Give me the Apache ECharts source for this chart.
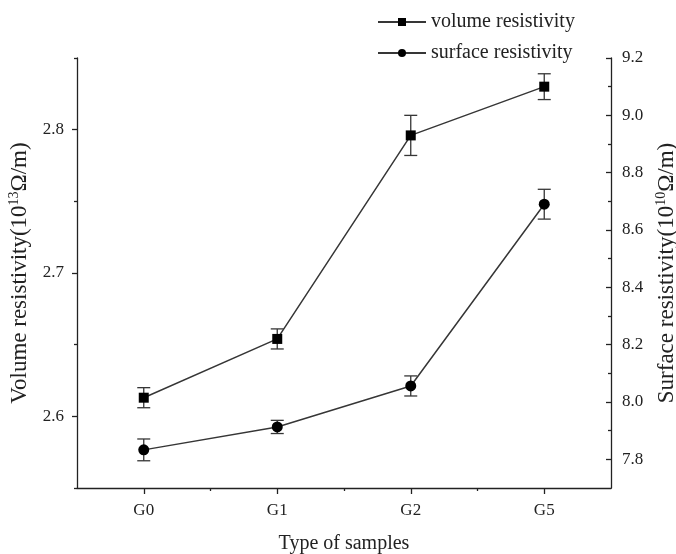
<!DOCTYPE html>
<html>
<head>
<meta charset="utf-8">
<script src="https://cdn.jsdelivr.net/npm/echarts@6/dist/echarts.min.js"></script>
<style>
  html, body { margin: 0; padding: 0; background: #fff; }
  #chart { width: 676px; height: 554px; }
</style>
</head>
<body>
<div id="chart"></div>
<script>
// Sample types on the horizontal axis
const categories = ['G0', 'G1', 'G2', 'G5'];

// Volume resistivity (10^13 Ω/m), left axis
const volumeValues = [2.613, 2.654, 2.796, 2.830];
const volumeErrors = [0.007, 0.007, 0.014, 0.009];

// Surface resistivity (10^10 Ω/m), right axis
const surfaceValues = [7.833, 7.913, 8.056, 8.690];
const surfaceErrors = [0.038, 0.023, 0.035, 0.052];

// Tick positions
const volumeTicks = [2.6, 2.7, 2.8];
const volumeMinorTicks = [2.55, 2.65, 2.75, 2.85];
const surfaceTicks = [7.8, 8.0, 8.2, 8.4, 8.6, 8.8, 9.0, 9.2];
const surfaceMinorTicks = [7.9, 8.1, 8.3, 8.5, 8.7, 8.9, 9.1];
const categoryMinorTicks = [0.5, 1.5, 2.5];

const FONT = '"Liberation Serif", "DejaVu Serif", serif';
const INK = '#222';
const LINE = '#363636';

const catIdx = categories.map((_, i) => i);
const pairs = (vals) => vals.map((v, i) => [i, v]);
const errData = (vals, errs) => vals.map((v, i) => [i, v - errs[i], v + errs[i]]);

function errorBar(params, api) {
  const x = api.value(0);
  const lo = api.coord([x, api.value(1)]);
  const hi = api.coord([x, api.value(2)]);
  const cap = 6.5;
  const style = { stroke: LINE, lineWidth: 1.3, fill: null };
  return {
    type: 'group',
    children: [
      { type: 'line', shape: { x1: lo[0], y1: lo[1], x2: hi[0], y2: hi[1] }, style },
      { type: 'line', shape: { x1: lo[0] - cap, y1: lo[1], x2: lo[0] + cap, y2: lo[1] }, style },
      { type: 'line', shape: { x1: hi[0] - cap, y1: hi[1], x2: hi[0] + cap, y2: hi[1] }, style }
    ]
  };
}

const nameRich = {
  n: { fontFamily: FONT, fontSize: 23, color: INK },
  s: { fontFamily: FONT, fontSize: 14, color: INK, verticalAlign: 'top', lineHeight: 26 }
};

const axisLine = { show: true, onZero: false, lineStyle: { color: INK, width: 1.3 } };
const hiddenLine = { show: false, onZero: false };
const tickStyle = { color: INK, width: 1.3 };

const chart = echarts.init(document.getElementById('chart'), null, { renderer: 'canvas' });

chart.setOption({
  animation: false,
  backgroundColor: '#fff',
  grid: { left: 77, right: 65, top: 58, bottom: 66, containLabel: false, outerBoundsMode: 'none' },
  legend: {
    orient: 'vertical',
    left: 372,
    top: 7,
    itemGap: 11,
    itemWidth: 48,
    itemHeight: 10,
    textStyle: { fontFamily: FONT, fontSize: 20, color: INK },
    data: ['volume resistivity', 'surface resistivity']
  },
  xAxis: [
    {
      type: 'value', min: -0.5, max: 3.5,
      position: 'bottom',
      axisLine,
      splitLine: { show: false },
      axisTick: { show: true, customValues: catIdx, length: 6, lineStyle: tickStyle },
      axisLabel: {
        customValues: catIdx, margin: 14,
        formatter: (v) => categories[Math.round(v)],
        fontFamily: FONT, fontSize: 17, color: INK
      },
      name: 'Type of samples', nameLocation: 'middle', nameGap: 46,
      nameTextStyle: { fontFamily: FONT, fontSize: 20, color: INK }
    },
    {
      type: 'value', min: -0.5, max: 3.5,
      position: 'bottom',
      axisLine: hiddenLine,
      splitLine: { show: false },
      axisTick: { show: true, customValues: categoryMinorTicks, length: 3, lineStyle: tickStyle },
      axisLabel: { show: false }
    }
  ],
  yAxis: [
    {
      type: 'value', min: 2.55, max: 2.85, position: 'left',
      axisLine,
      splitLine: { show: false },
      axisTick: { show: true, customValues: volumeTicks, length: 5, lineStyle: tickStyle },
      axisLabel: {
        customValues: volumeTicks, margin: 13,
        formatter: (v) => v.toFixed(1),
        fontFamily: FONT, fontSize: 17, color: INK
      },
      name: '{n|Volume resistivity(10}{s|13}{n|Ω/m)}',
      nameLocation: 'middle', nameGap: 35,
      nameTextStyle: { rich: nameRich }
    },
    {
      type: 'value', min: 7.7, max: 9.2, position: 'right',
      axisLine,
      splitLine: { show: false },
      axisTick: { show: true, inside: true, customValues: surfaceTicks, length: 5, lineStyle: tickStyle },
      axisLabel: {
        customValues: surfaceTicks, margin: 11,
        formatter: (v) => v.toFixed(1),
        fontFamily: FONT, fontSize: 17, color: INK
      },
      name: '{n|Surface resistivity(10}{s|10}{n|Ω/m)}',
      nameLocation: 'middle', nameGap: 37,
      nameTextStyle: { rich: nameRich }
    },
    {
      type: 'value', min: 2.55, max: 2.85, position: 'left',
      axisLine: hiddenLine,
      splitLine: { show: false },
      axisTick: { show: true, customValues: volumeMinorTicks, length: 3, lineStyle: tickStyle },
      axisLabel: { show: false }
    },
    {
      type: 'value', min: 7.7, max: 9.2, position: 'right',
      axisLine: hiddenLine,
      splitLine: { show: false },
      axisTick: { show: true, inside: true, customValues: surfaceMinorTicks, length: 3, lineStyle: tickStyle },
      axisLabel: { show: false }
    }
  ],
  series: [
    {
      name: 'volume resistivity error',
      type: 'custom', xAxisIndex: 0, yAxisIndex: 0,
      renderItem: errorBar,
      encode: { x: 0, y: [1, 2] },
      data: errData(volumeValues, volumeErrors),
      z: 2, silent: true
    },
    {
      name: 'surface resistivity error',
      type: 'custom', xAxisIndex: 0, yAxisIndex: 1,
      renderItem: errorBar,
      encode: { x: 0, y: [1, 2] },
      data: errData(surfaceValues, surfaceErrors),
      z: 2, silent: true
    },
    {
      name: 'volume resistivity',
      type: 'line', xAxisIndex: 0, yAxisIndex: 0,
      data: pairs(volumeValues),
      symbol: 'rect', symbolSize: 10,
      itemStyle: { color: '#000' },
      lineStyle: { color: LINE, width: 1.5 },
      z: 3
    },
    {
      name: 'surface resistivity',
      type: 'line', xAxisIndex: 0, yAxisIndex: 1,
      data: pairs(surfaceValues),
      symbol: 'circle', symbolSize: 11,
      itemStyle: { color: '#000' },
      lineStyle: { color: LINE, width: 1.5 },
      z: 3
    }
  ]
});
</script>
</body>
</html>
